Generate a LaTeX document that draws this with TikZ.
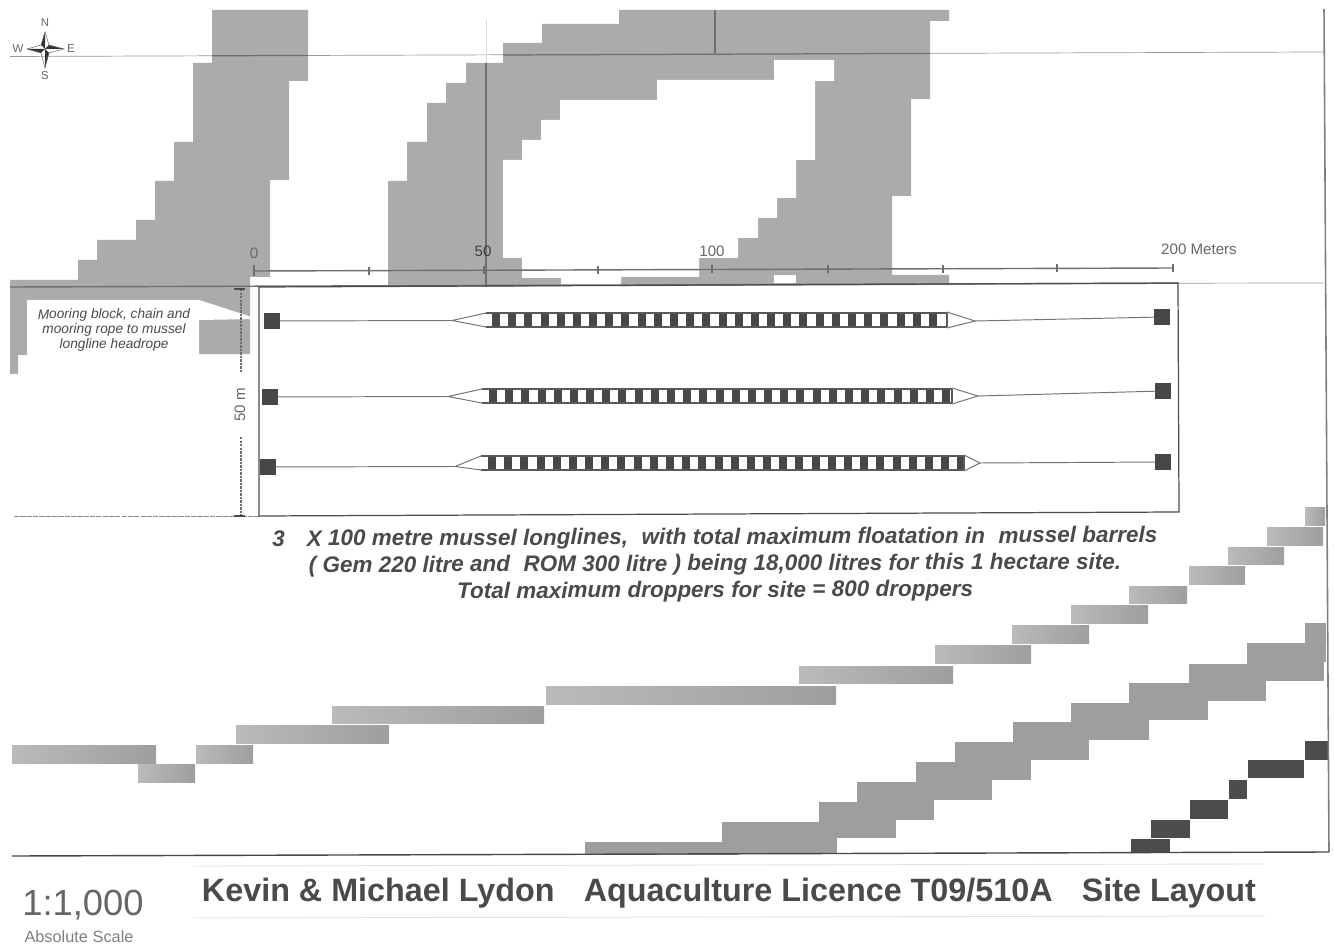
\documentclass[tikz,border=0pt]{standalone}
\usepackage{fontspec}
\setmainfont{Liberation Sans}
\definecolor{landgray}{HTML}{ABABAB}
\definecolor{inkgray}{HTML}{4A4A4A}
\definecolor{linegray}{HTML}{6E6E6E}
\tikzset{
	land/.style={fill=landgray,draw=none},
	bandlight/.style={left color=black!27,right color=black!38,draw=none},
	bandmid/.style={fill=black!38,draw=none},
	banddark/.style={fill=black!70,draw=none},
	mooring/.style={draw=none,fill=black!72,minimum size=16*0.02cm,inner sep=0pt,outer sep=0pt},
	rope/.style={draw=black!55,line width=0.55pt},
	sitetext/.style={text=inkgray,font=\bfseries\itshape\fontsize{12.8}{15.1}\selectfont,inner sep=0pt},
	scaletext/.style={text=black!60,font=\fontsize{8.6}{8.6}\selectfont,inner sep=0pt},
	compasstext/.style={text=black!60,font=\fontsize{6.5}{6.5}\selectfont,inner sep=0pt}
}
\begin{document}
\begin{tikzpicture}[x=0.02cm,y=-0.02cm]
	\useasboundingbox (0,0) rectangle (1335,949);

	% land
	\draw[land] (212,10) -- (308,10) -- (308,81) -- (289,81) -- (289,180) -- (270,180) -- (270,277) -- (250,277) -- (250,354) -- (27,355) -- (18,355) -- (18,374) -- (10,374) -- (10,280) -- (78,280) -- (78,260) -- (97,260) -- (97,240) -- (136,240) -- (136,220) -- (155,220) -- (155,181) -- (174,181) -- (174,142) -- (193,142) -- (193,63) -- (212,63) -- cycle;
	\draw[land] (388,287) -- (388,181) -- (407,181) -- (407,142) -- (427,142) -- (427,103) -- (446,103) -- (446,83) -- (466,83) -- (466,63) -- (503,63) -- (503,43) -- (542,43) -- (542,24) -- (619,24) -- (619,10) -- (949,10) -- (949,21) -- (930,21) -- (930,99) -- (911,99) -- (911,196) -- (892,196) -- (892,275) -- (949,275) -- (949,285) -- cycle;
	\draw[fill=white,draw=none] (774,60) -- (834,60) -- (834,81) -- (815,81) -- (815,160) -- (796,160) -- (796,198) -- (777,198) -- (777,218) -- (758,218) -- (758,238) -- (738,238) -- (738,258) -- (699,258) -- (699,277) -- (621,277) -- (621,288) -- (561,288) -- (561,278) -- (522,278) -- (522,258) -- (503,258) -- (503,160) -- (522,160) -- (522,140) -- (541,140) -- (541,120) -- (560,120) -- (560,100) -- (657,100) -- (657,80) -- (774,80) -- cycle;
	\draw[fill=white,draw=none] (774,275) rectangle (796,283);

	% label box
	\draw[fill=white,draw=none] (27,300) -- (199,300) -- (258,319) -- (199,320) -- (199,360) -- (27,360) -- cycle;
	\node[text=inkgray,font=\itshape\fontsize{7.8}{8.5}\selectfont,align=center,inner sep=0pt,rotate=0.3] (moorlabel) at (114,330) {Mooring block, chain and\\mooring rope to mussel\\longline headrope};

	% bands
	\foreach \xa/\ya/\xb/\yb in {12/745/156/763,138/764/195/782,196/745/253/763,236/725/389/743,332/706/544/723,546/686/836/704,799/666/953/683,935/645/1031/663,1012/625/1089/643,1071/605/1148/623,1129/586/1187/603,1189/566/1245/584,1228/547/1284/564,1267/527/1323/545,1305/507/1325/525}
		\shade[bandlight] (\xa,\ya) rectangle (\xb,\yb);
	\foreach \xa/\ya/\xb/\yb in {585/842/737/855,722/822/837/854,819/802/896/838,857/782/934/820,916/762/992/800,955/742/1031/780,1013/722/1089/760,1071/703/1149/740,1129/683/1208/720,1189/664/1266/701,1247/643/1324/681,1305/623/1326/662}
		\draw[bandmid] (\xa,\ya) rectangle (\xb,\yb);
	\foreach \xa/\ya/\xb/\yb in {1131/839/1170/852,1151/820/1190/838,1190/800/1228/819,1229/780/1247/799,1248/760/1304/778,1305/741/1328/760}
		\draw[banddark] (\xa,\ya) rectangle (\xb,\yb);

	% grid lines
	\draw[black!40,line width=0.4pt] (10,56.5) -- (1323,52);
	\draw[linegray,line width=0.7pt] (212,55.8) -- (308,55.4);
	\draw[linegray,line width=0.7pt] (503,55) -- (930,53.4);
	\draw[linegray,line width=0.8pt] (10,287) -- (1178,283.2);
	\draw[black!40,line width=0.4pt] (1178,283.2) -- (1323,283);
	\draw[black!45,line width=0.4pt,dash pattern=on 3pt off 0.6pt] (14,516) -- (259,516);
	\draw[linegray,line width=0.9pt] (486,63) -- (486,287);
	\draw[black!15,line width=0.4pt] (486,20) -- (486,63);
	\draw[linegray,line width=0.7pt] (715,10) -- (715,53);
	\draw[black!50,line width=0.9pt] (1324,9) -- (1329,852);
	\draw[black!72,line width=0.8pt] (12,856) -- (1329,852);

	% scale bar
	\draw[linegray,line width=0.8pt] (254,271) -- (1173,268);
	\foreach \x/\y in {369/270.6,484/270.2,598/269.8,712/269.5,828/269.1,943/268.8,1057/268.4,1173/268}
		\draw[linegray,line width=0.6pt] (\x,\y-4) -- (\x,\y+4);
	\draw[linegray,line width=1pt] (254,265) -- (254,276);
	\node[scaletext] (sc0) at (254,253) {0};
	\node[scaletext,text=black!75] (sc50) at (483,251) {50};
	\node[scaletext] (sc100) at (712,251) {100};
	\node[scaletext] (sc200) at (1199,249) {200 Meters};

	% site
	\draw[black!70,line width=0.7pt] (259,287) -- (1178,283) -- (1179,512) -- (259,516) -- cycle;
	\draw[linegray,line width=0.6pt,dash pattern=on 1.4pt off 0.6pt] (241,289) -- (241,372);
	\draw[linegray,line width=0.6pt,dash pattern=on 1.4pt off 0.6pt] (241,437) -- (241,516);
	\draw[black!70,line width=0.9pt] (234,289) -- (245,289);
	\draw[black!70,line width=0.9pt] (234,516) -- (245,516);
	\node[scaletext,rotate=90] (dim50) at (240,405) {50 m};

	% longlines
	\foreach \row/\lx/\ly/\rx/\ry/\tl/\bl/\br/\ya/\yb/\tr/\yt/\first/\cnt in {
		1/272/321/1162/317/452/486/947/313/327/975/321/492/27,
		2/270/397/1163/391/448/482/952/389/403/978/396/489/28,
		3/268/467/1163/462/455/481/964/456/470/980/463/488/29}{
		\node[mooring] (ml\row) at (\lx,\ly) {};
		\node[mooring] (mr\row) at (\rx,\ry) {};
		\coordinate (tl\row) at (\tl,\ly-0.5);
		\coordinate (tr\row) at (\tr,\yt);
		\draw[rope] (ml\row) -- (tl\row);
		\draw[rope] (tr\row) -- (mr\row);
		\draw[rope] (\bl,\ya) -- (tl\row) -- (\bl,\yb);
		\draw[rope] (\br,\ya-1) -- (tr\row) -- (\br,\yb+1);
		\foreach \n in {0,...,\cnt}
			\fill[black!72] (\first+16.18*\n,\ya) rectangle (\first+16.18*\n+8,\yb);
		\draw[black!65,line width=0.8pt] (\bl,\ya) -- (\br,\ya);
		\draw[black!65,line width=0.8pt] (\bl,\yb) -- (\br,\yb);
		\draw[black!65,line width=0.6pt] (\br,\ya) -- (\br,\yb);
	}

	% caption
	\node[sitetext,align=center,rotate=0.25] (caption) at (715,565) {3\hspace{0.7em} X 100 metre mussel longlines,\hspace{0.6em}with total maximum floatation in\hspace{0.6em}mussel barrels\\( Gem 220 litre and\hspace{0.6em}ROM 300 litre ) being 18,000 litres for this 1 hectare site.\\Total maximum droppers for site = 800 droppers};

	% footer
	\draw[black!12,line width=0.5pt] (193,866) -- (1265,864);
	\draw[black!12,line width=0.5pt] (193,918) -- (1265,916);
	\node[text=inkgray,font=\bfseries\fontsize{18.4}{18.4}\selectfont,inner sep=0pt] (title) at (729,893) {Kevin \& Michael Lydon\hspace{0.9em}Aquaculture Licence T09/510A\hspace{0.9em}Site Layout};
	\node[text=black!60,font=\fontsize{20.7}{20.7}\selectfont,inner sep=0pt] (ratio) at (83,905) {1:1,000};
	\node[text=black!50,font=\fontsize{9.3}{9.3}\selectfont,inner sep=0pt] (abscale) at (79,937) {Absolute Scale};

	% compass
	\node[compasstext] (north) at (45,23) {N};
	\node[compasstext] (south) at (45,76) {S};
	\node[compasstext] (west) at (18,49) {W};
	\node[compasstext] (east) at (71,49) {E};
	\fill[black!80] (45,49) -- (45,32) -- (41,45) -- cycle;
	\fill[black!80] (45,49) -- (64,49) -- (49,45) -- cycle;
	\fill[black!80] (45,49) -- (45,68) -- (49,53) -- cycle;
	\fill[black!80] (45,49) -- (27,49) -- (41,53) -- cycle;
	\draw[black!60,line width=0.3pt] (45,32) -- (49,45) -- (64,49) -- (49,53) -- (45,68) -- (41,53) -- (27,49) -- (41,45) -- cycle;
\end{tikzpicture}
\end{document}
